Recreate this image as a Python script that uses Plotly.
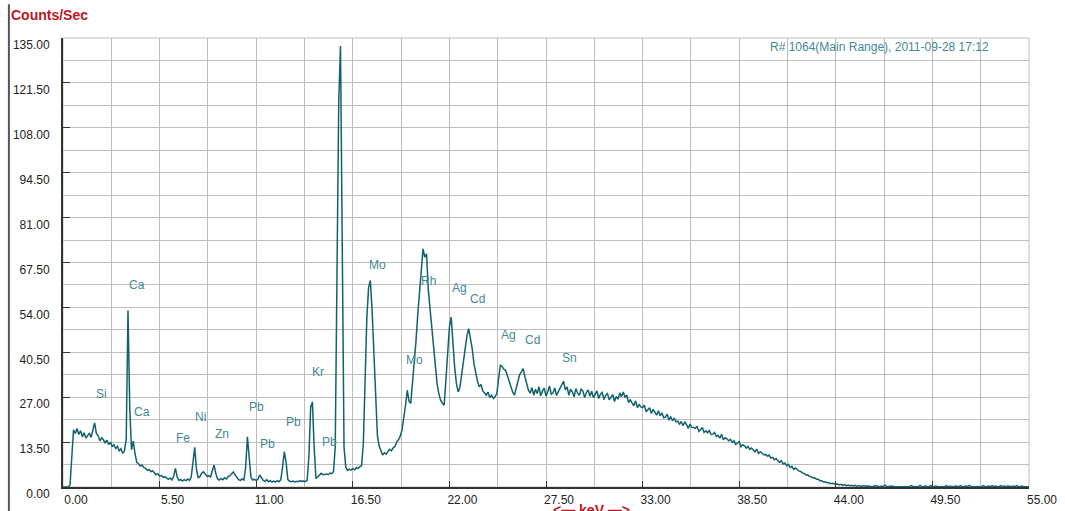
import numpy as np
import plotly.graph_objects as go

# ---- data (counts/sec per 0.1 keV channel) ----
ENERGY_STEP_KEV = 0.1
counts = [
    0, 0, 0, 0, 0.6, 9.5, 17.2, 16.1, 17.6, 15.8,
    16.9, 15.1, 16.3, 14.7, 15.6, 16.2, 14.9, 17.6, 19.3, 16.1,
    15.4, 13.9, 14.8, 14.2, 13.3, 14.1, 12.8, 13.5, 12.2, 12.7,
    11.6, 12.2, 10.9, 11.5, 10.1, 10.8, 14.5, 53.1, 24.0, 11.2,
    13.8, 10.0, 7.4, 7.0, 6.3, 6.6, 5.9, 5.6, 5.0, 5.3,
    4.6, 4.9, 4.1, 3.7, 4.0, 3.2, 3.5, 2.9, 3.1, 2.6,
    2.3, 2.7, 2.1, 3.2, 5.6, 3.0, 2.0, 2.3, 1.8, 2.2,
    1.9, 2.4, 2.0, 3.0, 7.8, 11.9, 5.2, 2.8, 3.1, 4.2,
    4.6, 3.9, 3.2, 3.4, 3.0, 4.9, 6.6, 4.1, 2.4, 2.1,
    2.5, 2.2, 2.8, 2.4, 3.1, 3.4, 4.0, 4.5, 3.6, 2.8,
    2.2, 2.0, 2.4, 2.1, 6.0, 15.1, 9.0, 3.0, 2.1, 2.3,
    2.0, 2.3, 3.6, 2.9, 2.0, 1.7, 2.2, 1.6, 1.9, 1.5,
    1.8, 1.5, 1.9, 1.6, 2.2, 6.0, 10.6, 7.5, 2.3, 1.7,
    1.6, 1.8, 1.5, 1.7, 1.6, 1.9, 1.7, 1.8, 1.6, 2.0,
    9.0, 24.0, 25.6, 12.0, 2.6, 3.0, 3.6, 4.1, 3.7, 3.8,
    3.9, 3.7, 4.2, 4.0, 4.6, 12.0, 60.0, 116.0, 132.6, 62.0,
    12.0, 6.0, 5.0, 5.4, 5.1, 5.5, 5.2, 5.8, 5.6, 6.1,
    6.4, 13.0, 32.0, 51.0, 60.0, 62.1, 53.0, 42.0, 28.0, 15.5,
    12.3, 11.0, 9.6, 10.3, 9.9, 10.7, 11.3, 10.9, 11.8, 12.2,
    13.6, 14.2, 15.3, 17.1, 20.5, 24.5, 29.1, 25.8, 25.1, 31.0,
    36.5, 44.1, 52.0, 59.1, 66.0, 71.6, 69.1, 70.1, 59.1, 53.0,
    47.1, 41.5, 37.1, 31.0, 28.0, 26.1, 25.2, 24.6, 32.1, 41.0,
    48.1, 51.1, 43.0, 36.0, 31.1, 28.6, 30.0, 34.1, 37.5, 41.1,
    45.5, 47.6, 45.0, 41.5, 37.0, 34.1, 31.8, 30.1, 30.8, 28.9,
    28.4, 27.6, 28.5, 26.9, 27.6, 26.6, 27.2, 28.1, 32.5, 36.6,
    36.2, 35.4, 35.1, 33.4, 31.6, 30.1, 28.6, 27.6, 29.6, 32.1,
    33.8, 34.6, 35.6, 33.1, 31.0, 29.1, 28.2, 29.9, 27.6, 29.4,
    28.1, 30.2, 27.4, 28.9, 29.7, 27.3, 28.6, 30.4, 27.9, 28.3,
    29.8, 27.5, 28.7, 29.9, 30.6, 31.8, 29.2, 30.1, 27.6, 29.4,
    28.6, 27.1, 29.6, 28.2, 27.6, 29.4, 28.9, 26.9, 28.4, 29.2,
    27.3, 28.8, 26.9, 27.7, 28.9, 26.6, 27.9, 28.4, 26.3, 27.6,
    28.1, 26.2, 27.0, 27.8, 25.7, 27.2, 26.4, 28.3, 27.1, 28.6,
    26.9, 27.6, 25.4, 26.2, 25.3, 24.4, 25.9, 23.9, 24.8, 24.1,
    23.9, 24.6, 22.6, 23.4, 23.8, 22.1, 23.3, 22.5, 21.6, 22.9,
    21.4, 22.3, 20.8, 21.0, 21.9, 20.1, 21.2, 19.9, 20.7, 19.6,
    19.8, 18.9, 19.7, 18.4, 19.5, 18.8, 17.6, 18.9, 18.0, 17.9,
    17.6, 18.3, 16.7, 17.2, 17.9, 16.4, 16.9, 16.3, 17.0, 15.8,
    15.9, 16.4, 15.2, 15.5, 14.7, 15.8, 14.2, 14.8, 14.5, 13.9,
    14.3, 13.4, 13.9, 12.8, 13.2, 13.6, 12.1, 12.7, 12.4, 11.7,
    12.2, 11.3, 11.7, 11.0, 10.6, 11.4, 10.1, 10.6, 10.2, 9.7,
    9.8, 9.3, 9.6, 8.7, 8.9, 8.2, 8.6, 7.9, 7.4, 7.9,
    6.9, 7.2, 6.4, 6.8, 5.9, 6.2, 5.3, 5.7, 5.1, 4.8,
    4.7, 4.2, 4.1, 3.6, 3.7, 3.2, 3.1, 2.7, 2.8, 2.3,
    2.3, 1.9, 1.9, 1.5, 1.6, 1.3, 1.3, 1.0, 1.1, 0.9,
    0.8, 0.9, 0.6, 0.8, 0.5, 0.7, 0.4, 0.6, 0.4, 0.5,
    0.3, 0.5, 0.2, 0.4, 0.3, 0.2, 0.4, 0.2, 0.3, 0.2,
    0.3, 0.1, 0.4, 0.2, 0.2, 0.1, 0.3, 0.1, 0.6, 0.1,
    0.2, 0.1, 0.3, 0.1, 0.1, 0.3, 0.1, 0.2, 0.1, 0.2,
    0.1, 0.2, 0.1, 0.4, 0.1, 0.1, 0.2, 0.1, 0.5, 0.1,
    0.1, 0.3, 0.1, 0.1, 0.4, 0.1, 0.1, 0.3, 0.1, 0.1,
    0.3, 0.1, 0.1, 0.4, 0.1, 0.2, 0.1, 0.1, 0.3, 0.1,
    0.1, 0.4, 0.1, 0.1, 0.3, 0.1, 0.5, 0.1, 0.1, 0.3,
    0.1, 0.1, 0.3, 0.1, 0.4, 0.1, 0.1, 0.3, 0.1, 0.4,
    0.1, 0.3, 0.1, 0.1, 0.4, 0.1, 0.3, 0.1, 0.3, 0.1,
    0.1, 0.3, 0.1, 0.4, 0.1, 0.1, 0.3, 0.1, 0.1, 0.3,
    0.1,
]
energy = np.round(np.arange(len(counts)) * ENERGY_STEP_KEV, 1)

# element labels: text, keV, counts position
peak_labels = ["Zr", "Mo", "Rh", "Ag", "Cd", "Ca", "Si", "Ca", "Ni", "Fe", "Zn",
               "Pb", "Pb", "Pb", "Kr", "Pb", "Mo", "Ag", "Cd", "Sn"]
peak_label_kev = [16.11, 17.89, 20.80, 22.56, 23.59, 4.20, 2.20, 4.48, 7.80, 6.81, 9.07,
                  11.03, 11.65, 13.11, 14.54, 15.20, 20.04, 25.35, 26.74, 28.83]
peak_label_cps = [141.9, 66.6, 61.9, 59.8, 56.5, 60.6, 28.1, 22.6, 21.1, 14.6, 15.9,
                  24.1, 12.8, 19.6, 34.7, 13.4, 38.3, 45.8, 44.3, 38.9]

x_ticks = [0.0, 5.5, 11.0, 16.5, 22.0, 27.5, 33.0, 38.5, 44.0, 49.5, 55.0]
y_ticks = [0.0, 13.5, 27.0, 40.5, 54.0, 67.5, 81.0, 94.5, 108.0, 121.5, 135.0]

run_info = "R# 1064(Main Range), 2011-09-28 17:12"

LINE = "#12626d"
LABEL = "#3f8896"
RED = "#c0141c"
GRID = "#bdbdbd"
FONT = "Liberation Sans, Arial, sans-serif"

fig = go.Figure()
fig.add_trace(go.Scatter(x=energy, y=counts, mode="lines",
                         line=dict(color=LINE, width=1.5), hoverinfo="skip",
                         showlegend=False))

for t, xk, yc in zip(peak_labels, peak_label_kev, peak_label_cps):
    fig.add_annotation(x=xk, y=yc, text=t, showarrow=False,
                       font=dict(family=FONT, size=12, color=LABEL),
                       xanchor="center", yanchor="middle")

fig.add_annotation(xref="paper", yref="paper", x=0.845, y=0.981, text=run_info,
                   showarrow=False, font=dict(family=FONT, size=12, color=LABEL),
                   xanchor="center", yanchor="middle")
fig.add_annotation(xref="paper", yref="paper", x=-0.056, y=1.052, text="<b>Counts/Sec</b>",
                   showarrow=False, font=dict(family=FONT, size=14, color=RED),
                   xanchor="left", yanchor="middle")
fig.add_annotation(xref="paper", yref="paper", x=0.547, y=-0.029, text="<b>&lt;— keV —&gt;</b>",
                   showarrow=False, font=dict(family=FONT, size=14, color=RED),
                   xanchor="center", yanchor="top")

# plot frame (top/right in grid colour), window edge at far left
fig.add_shape(type="rect", xref="paper", yref="paper", x0=0, x1=1, y0=0, y1=1,
              line=dict(color=GRID, width=1), layer="below")
fig.add_shape(type="line", xref="paper", yref="paper", x0=-0.056, x1=-0.056, y0=-0.06, y1=1.075,
              line=dict(color="#555555", width=2))

fig.update_layout(
    width=1065, height=511,
    margin=dict(l=63, r=36, t=38, b=24),
    paper_bgcolor="white", plot_bgcolor="white",
    font=dict(family=FONT, size=12, color="#222222"),
    xaxis=dict(range=[0, 55], tickvals=x_ticks, ticktext=[f"{v:.2f}" for v in x_ticks],
               automargin=False,
               showgrid=True, gridcolor=GRID, gridwidth=1,
               minor=dict(dtick=2.75, tick0=0, showgrid=True, gridcolor=GRID, gridwidth=1),
               ticks="inside", ticklen=6, tickcolor="#333333", tickwidth=1,
               showline=True, linecolor="#333333", linewidth=2, zeroline=False,
               ticklabelshift=13, ticklabelstandoff=1,
               tickfont=dict(family=FONT, size=12, color="#222222")),
    yaxis=dict(range=[0, 135], tickvals=y_ticks, ticktext=[f"{v:.2f}" for v in y_ticks],
               automargin=False,
               showgrid=True, gridcolor=GRID, gridwidth=1,
               minor=dict(dtick=6.75, tick0=0, showgrid=True, gridcolor=GRID, gridwidth=1),
               ticks="inside", ticklen=7, tickcolor="#333333", tickwidth=1,
               showline=True, linecolor="#333333", linewidth=2, zeroline=False,
               ticklabelshift=7, ticklabelstandoff=9,
               tickfont=dict(family=FONT, size=12, color="#222222")),
)

fig.write_html("out.html", config={"displayModeBar": False},
               post_script="document.body.style.margin='0';document.body.style.overflow='hidden';")
